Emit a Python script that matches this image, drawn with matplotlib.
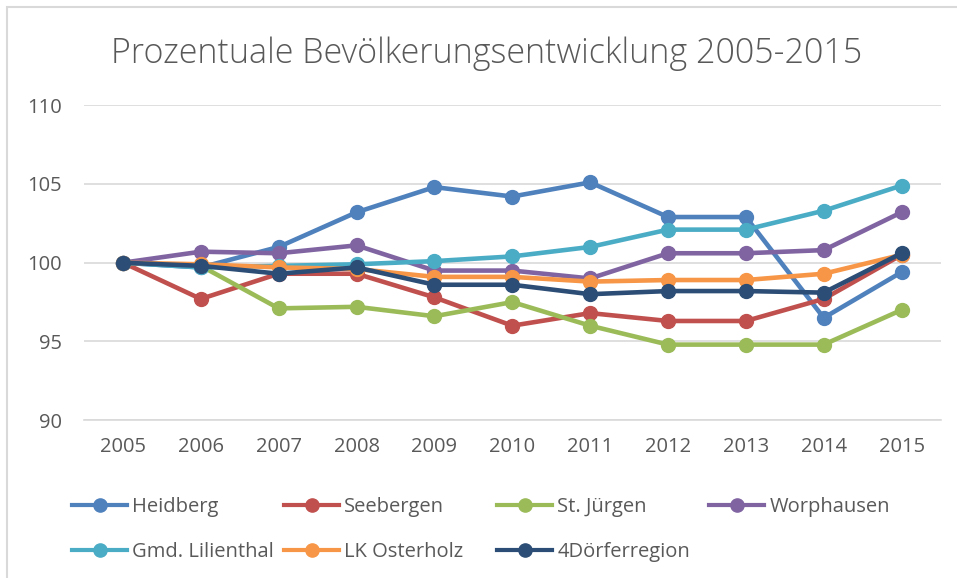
import matplotlib.pyplot as plt
from matplotlib.lines import Line2D
from matplotlib.patches import Rectangle

plt.rcParams['font.family'] = ['Open Sans', 'DejaVu Sans']

jahre = ['2005', '2006', '2007', '2008', '2009', '2010', '2011', '2012', '2013', '2014', '2015']

heidberg = [100, 99.7, 101.0, 103.2, 104.8, 104.2, 105.1, 102.9, 102.9, 96.5, 99.4]
seebergen = [100, 97.7, 99.3, 99.3, 97.8, 96.0, 96.8, 96.3, 96.3, 97.7, 100.5]
st_juergen = [100, 99.8, 97.1, 97.2, 96.6, 97.5, 96.0, 94.8, 94.8, 94.8, 97.0]
worphausen = [100, 100.7, 100.6, 101.1, 99.5, 99.5, 99.0, 100.6, 100.6, 100.8, 103.2]
lilienthal = [100, 99.7, 99.8, 99.9, 100.1, 100.4, 101.0, 102.1, 102.1, 103.3, 104.9]
osterholz = [100, 99.9, 99.7, 99.6, 99.1, 99.1, 98.8, 98.9, 98.9, 99.3, 100.5]
vier_doerfer = [100, 99.8, 99.3, 99.7, 98.6, 98.6, 98.0, 98.2, 98.2, 98.1, 100.6]

reihen = [
    ('Heidberg', heidberg, '#4F81BD'),
    ('Seebergen', seebergen, '#C0504D'),
    ('St. Jürgen', st_juergen, '#9BBB59'),
    ('Worphausen', worphausen, '#8064A2'),
    ('Gmd. Lilienthal', lilienthal, '#4BACC6'),
    ('LK Osterholz', osterholz, '#F79646'),
    ('4Dörferregion', vier_doerfer, '#2C4D75'),
]

grau = '#595959'

fig = plt.figure(figsize=(9.57, 5.78), dpi=100)
# Rahmen des Diagrammbereichs (rechts/unten abgeschnitten)
fig.patches.append(Rectangle((7 / 957, -0.1), 1.2, 1.1 - 7 / 578, transform=fig.transFigure,
                             fill=False, edgecolor='#D9D9D9', linewidth=1.5))

ax = fig.add_axes([0.0878, 0.273, 0.895, 0.545])

x = list(range(len(jahre)))
handles = []
for name, werte, farbe in reihen:
    ax.plot(x, werte, color=farbe, linewidth=3.3, marker='o', markersize=10, label=name)
    handles.append(Line2D([], [], color=farbe, linewidth=3.0, marker='o', markersize=9.5))

ax.set_xlim(-0.5, len(jahre) - 0.5)
ax.set_ylim(90, 110)
ax.set_yticks([90, 95, 100, 105, 110])
ax.set_xticks(x)
ax.set_xticklabels(jahre)
ax.grid(axis='y', color='#D9D9D9', linewidth=1.2)
ax.set_axisbelow(True)
for s in ['top', 'right', 'left']:
    ax.spines[s].set_visible(False)
ax.spines['bottom'].set_color('#D9D9D9')
ax.spines['bottom'].set_linewidth(1.2)
ax.tick_params(axis='both', length=0, labelsize=14.5, colors=grau)
ax.tick_params(axis='x', pad=12)
ax.tick_params(axis='y', pad=16)

fig.text(487 / 957, 1 - 63 / 578, 'Prozentuale Bevölkerungsentwicklung 2005-2015',
         ha='center', va='baseline', fontsize=24.5, color=grau, fontweight='light')

# Legende in vier gleich breiten Spalten
spalten_x = [72 / 957, 284 / 957, 497 / 957, 709 / 957]
namen = [r[0] for r in reihen]
for i, sx in enumerate(spalten_x):
    idx = [j for j in (i, i + 4) if j < len(reihen)]
    fig.legend([handles[j] for j in idx], [namen[j] for j in idx],
               loc='upper left', bbox_to_anchor=(sx, 1 - 497 / 578), frameon=False,
               fontsize=14.5, labelcolor=grau, handlelength=2.75, handletextpad=0.25,
               labelspacing=1.25, borderaxespad=0, borderpad=0)

fig.savefig('out.png', dpi=100)
